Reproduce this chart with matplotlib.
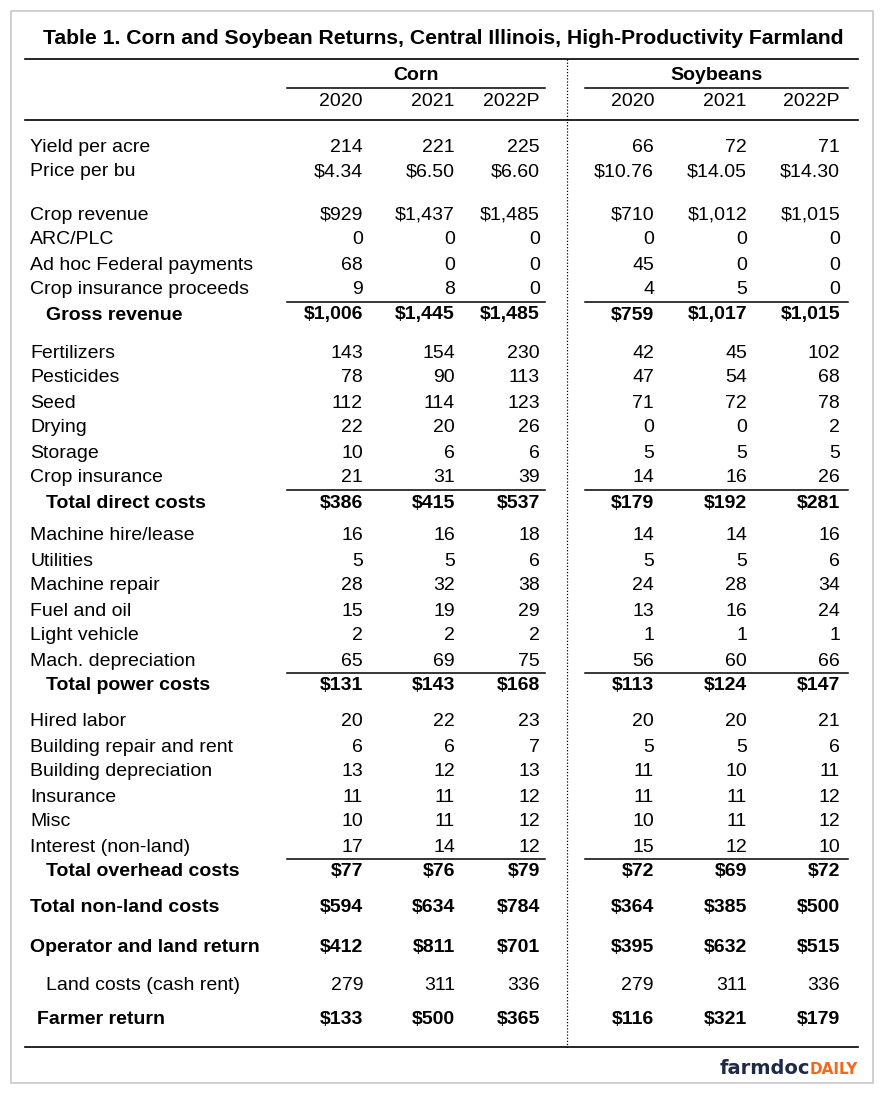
import matplotlib

matplotlib.use("Agg")
import matplotlib.pyplot as plt
from matplotlib.font_manager import findfont, FontProperties

# ---- table data -------------------------------------------------------------
years = ["2020", "2021", "2022P"]
crops = ["Corn", "Soybeans"]

row_labels = [
    "Yield per acre", "Price per bu",
    "Crop revenue", "ARC/PLC", "Ad hoc Federal payments", "Crop insurance proceeds",
    "Gross revenue",
    "Fertilizers", "Pesticides", "Seed", "Drying", "Storage", "Crop insurance",
    "Total direct costs",
    "Machine hire/lease", "Utilities", "Machine repair", "Fuel and oil",
    "Light vehicle", "Mach. depreciation",
    "Total power costs",
    "Hired labor", "Building repair and rent", "Building depreciation",
    "Insurance", "Misc", "Interest (non-land)",
    "Total overhead costs",
    "Total non-land costs",
    "Operator and land return",
    "Land costs (cash rent)",
    "Farmer return",
]

corn = [
    [214, 221, 225], [4.34, 6.50, 6.60],
    [929, 1437, 1485], [0, 0, 0], [68, 0, 0], [9, 8, 0],
    [1006, 1445, 1485],
    [143, 154, 230], [78, 90, 113], [112, 114, 123], [22, 20, 26], [10, 6, 6], [21, 31, 39],
    [386, 415, 537],
    [16, 16, 18], [5, 5, 6], [28, 32, 38], [15, 19, 29], [2, 2, 2], [65, 69, 75],
    [131, 143, 168],
    [20, 22, 23], [6, 6, 7], [13, 12, 13], [11, 11, 12], [10, 11, 12], [17, 14, 12],
    [77, 76, 79],
    [594, 634, 784],
    [412, 811, 701],
    [279, 311, 336],
    [133, 500, 365],
]

soybeans = [
    [66, 72, 71], [10.76, 14.05, 14.30],
    [710, 1012, 1015], [0, 0, 0], [45, 0, 0], [4, 5, 0],
    [759, 1017, 1015],
    [42, 45, 102], [47, 54, 68], [71, 72, 78], [0, 0, 2], [5, 5, 5], [14, 16, 26],
    [179, 192, 281],
    [14, 14, 16], [5, 5, 6], [24, 28, 34], [13, 16, 24], [1, 1, 1], [56, 60, 66],
    [113, 124, 147],
    [20, 20, 21], [5, 5, 6], [11, 10, 11], [11, 11, 12], [10, 11, 12], [15, 12, 10],
    [72, 69, 72],
    [364, 385, 500],
    [395, 632, 515],
    [279, 311, 336],
    [116, 321, 179],
]

# rows shown in bold, rows with a "$" prefix, rows with cents
bold_rows = {"Gross revenue", "Total direct costs", "Total power costs",
             "Total overhead costs", "Total non-land costs",
             "Operator and land return", "Farmer return"}
dollar_rows = bold_rows | {"Crop revenue"}
price_rows = {"Price per bu"}
subtotal_rows = {"Gross revenue", "Total direct costs", "Total power costs",
                 "Total overhead costs"}

# ---- layout (pixels) ----------------------------------------------------------
W, H = 884, 1093
row_y = [147, 172, 215, 240, 265, 290, 315,
         353, 378, 403, 428, 453, 478, 503,
         536, 561, 586, 611, 636, 661, 686,
         722, 747, 772, 797, 822, 847, 872,
         908, 947, 985, 1020]
label_x = {"Gross revenue": 46, "Total direct costs": 46, "Total power costs": 46,
           "Total overhead costs": 46, "Land costs (cash rent)": 46,
           "Farmer return": 37}
col_right = [[363, 455, 540], [654, 747, 840]]
group_span = [(287, 545), (585, 848)]


def fmt(v, label):
    if label in price_rows:
        return f"${v:,.2f}"
    if label in dollar_rows:
        return f"${v:,.0f}"
    return f"{v:,.0f}"


def pick(*names):
    for n in names:
        try:
            findfont(FontProperties(family=n), fallback_to_default=False)
            return n
        except Exception:
            continue
    return "DejaVu Sans"


body_font = pick("Liberation Sans", "Arial")
narrow_font = pick("Liberation Sans Narrow", "Liberation Sans")

fig = plt.figure(figsize=(W / 100, H / 100), dpi=100)
ax = fig.add_axes([0, 0, 1, 1])
ax.set_xlim(0, W)
ax.set_ylim(H, 0)
ax.axis("off")

# outer border
ax.add_patch(plt.Rectangle((10.5, 10.5), 862, 1072, fill=False,
                           edgecolor="#c8c8c8", linewidth=1.2))

ax.text(W / 2 + 1, 38, "Table 1. Corn and Soybean Returns, Central Illinois, High-Productivity Farmland",
        ha="center", va="center", fontsize=15.2, fontweight="bold",
        family=narrow_font, color="black")

ax.plot([25, 858], [59, 59], color="black", lw=1.2)
ax.plot([25, 858], [120, 120], color="black", lw=1.2)
ax.plot([25, 858], [1047, 1047], color="black", lw=1.2)
ax.plot([567, 567], [59, 1047], color="black", lw=0.9, linestyle=(0, (1, 1.5)))

for g, crop in enumerate(crops):
    x0, x1 = group_span[g]
    ax.text((x0 + x1) / 2, 76, crop, ha="center", va="center",
            fontsize=14, fontweight="bold", family=narrow_font)
    ax.plot([x0, x1], [88, 88], color="black", lw=1.1)
    for c, yr in enumerate(years):
        ax.text(col_right[g][c], 102, yr, ha="right", va="center",
                fontsize=14, family=narrow_font)

for i, label in enumerate(row_labels):
    y = row_y[i]
    weight = "bold" if label in bold_rows else "normal"
    ax.text(label_x.get(label, 30), y, label, ha="left", va="center",
            fontsize=14, fontweight=weight, family=body_font)
    for g, data in enumerate([corn, soybeans]):
        for c in range(3):
            ax.text(col_right[g][c], y, fmt(data[i][c], label), ha="right",
                    va="center", fontsize=14, fontweight=weight, family=body_font)
    if label in subtotal_rows:
        for x0, x1 in group_span:
            ax.plot([x0, x1], [y - 13, y - 13], color="black", lw=1.1)

# logo
logo = ax.text(858, 1068, "farmdoc", ha="right", va="center", fontsize=14,
               fontweight="bold", family="DejaVu Sans", color="#1f2a48")
daily = ax.text(858, 1070, "DAILY", ha="right", va="center", fontsize=11,
                fontweight="bold", family="DejaVu Sans", color="#f26a1b")
fig.canvas.draw()
dw = daily.get_window_extent().width
logo.set_x(858 - dw)

fig.savefig("out.png", dpi=100)
